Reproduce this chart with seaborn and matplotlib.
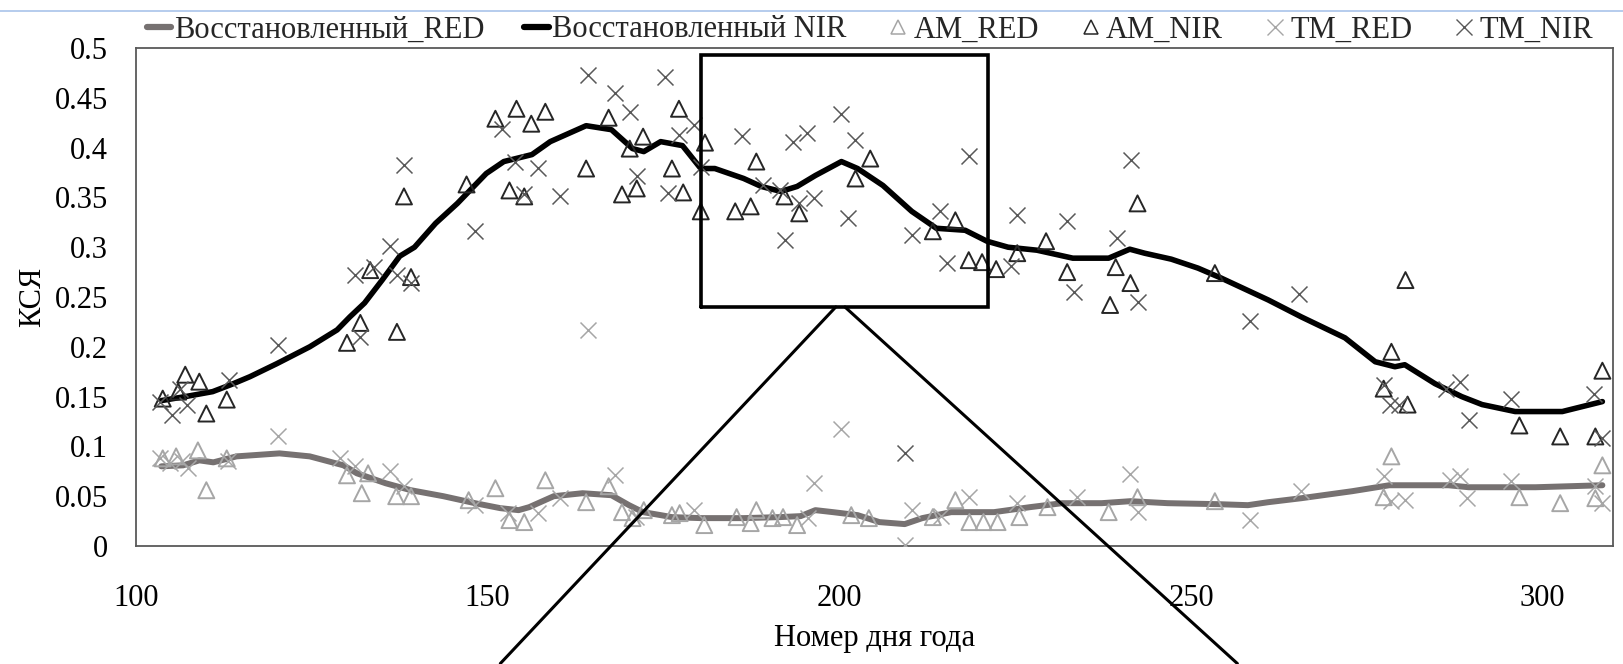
import matplotlib
matplotlib.use("Agg")
import matplotlib.pyplot as plt
from matplotlib.lines import Line2D
import seaborn as sns

# ---------------- data ----------------
nir_day = [103.6, 107, 110.9, 113.5, 116.2, 120, 124.7, 128.6, 130.4, 132.5, 135, 137.5, 139.6, 142.6,
           145.7, 149.8, 152.3, 156.3, 158.9, 164, 167.6, 170.6, 172.2, 174.6, 177.7, 180.3, 182.3, 186.4,
           188.9, 191.7, 194, 196.6, 200.3, 202.6, 206.2, 210.3, 213.8, 217.9, 221, 224, 228.1, 233.2,
           238.3, 241.3, 243.4, 247.2, 251, 254.3, 261, 265.7, 271.9, 276.2, 279, 280.4, 284.7, 288.5,
           291.4, 296.1, 302.8, 308.5]
nir_val = [0.146, 0.150, 0.155, 0.162, 0.170, 0.183, 0.200, 0.217, 0.230, 0.244, 0.267, 0.291, 0.300, 0.324,
           0.344, 0.374, 0.386, 0.393, 0.406, 0.422, 0.418, 0.399, 0.396, 0.406, 0.402, 0.379, 0.379, 0.369,
           0.361, 0.356, 0.361, 0.372, 0.386, 0.379, 0.362, 0.336, 0.319, 0.317, 0.306, 0.300, 0.297, 0.289,
           0.289, 0.298, 0.294, 0.288, 0.279, 0.269, 0.247, 0.230, 0.209, 0.185, 0.180, 0.182, 0.163, 0.150,
           0.142, 0.135, 0.135, 0.145]

red_day = [103.6, 106.7, 109, 111, 114.3, 120.4, 124.7, 129.5, 131.4, 135.5, 139.1, 143.7, 148.2, 151.8,
           154.4, 155.9, 159.4, 163.5, 167.6, 170.1, 172.1, 174.6, 176.2, 180.3, 186.4, 191.5, 194.5, 196.6,
           199.1, 202.6, 205.7, 209.3, 211.8, 215.9, 222, 227.1, 231.7, 237.3, 241.4, 246.7, 253.9, 258.1,
           261, 265.7, 272.9, 278.2, 286.6, 289.5, 299, 308.5]
red_val = [0.080, 0.081, 0.086, 0.084, 0.090, 0.093, 0.090, 0.081, 0.073, 0.063, 0.056, 0.050, 0.043, 0.038,
           0.036, 0.039, 0.050, 0.053, 0.051, 0.041, 0.034, 0.031, 0.029, 0.028, 0.028, 0.029, 0.030, 0.036,
           0.034, 0.031, 0.024, 0.022, 0.028, 0.034, 0.034, 0.039, 0.043, 0.043, 0.045, 0.043, 0.042, 0.041,
           0.044, 0.048, 0.055, 0.061, 0.061, 0.059, 0.059, 0.061]

am_nir_day = [103.8, 106, 107, 109, 110, 112.9, 130, 131.9, 133.3, 137.1, 138.1, 139.1, 147, 151.1, 153.1,
              154.1, 155.2, 156.2, 158.2, 164, 167.2, 169.1, 170.2, 171.2, 172.1, 176.2, 177.2, 177.8, 180.3,
              180.9, 185.2, 187.4, 188.2, 192.2, 194.3, 202.3, 204.4, 213.3, 216.5, 218.4, 220.3, 222.3,
              225.3, 229.4, 232.4, 238.5, 239.3, 241.4, 242.4, 253.4, 277.4, 278.5, 280.5, 280.8, 296.7,
              302.5, 307.5, 308.5]
am_nir_val = [0.148, 0.155, 0.172, 0.165, 0.133, 0.147, 0.204, 0.224, 0.277, 0.215, 0.351, 0.270, 0.363,
              0.429, 0.357, 0.439, 0.351, 0.424, 0.436, 0.379, 0.430, 0.353, 0.399, 0.359, 0.411, 0.379,
              0.439, 0.355, 0.336, 0.405, 0.336, 0.341, 0.386, 0.351, 0.334, 0.369, 0.389, 0.316, 0.327,
              0.287, 0.285, 0.278, 0.294, 0.306, 0.275, 0.242, 0.280, 0.264, 0.344, 0.274, 0.158, 0.195,
              0.267, 0.142, 0.121, 0.110, 0.110, 0.176]

tm_nir_day = [103.4, 105.1, 106.3, 107.2, 113.2, 120.2, 131.2, 131.8, 133.8, 136.1, 137.1, 138.1, 139.1,
              148.2, 152.1, 153.9, 155.2, 157.2, 160.3, 164.2, 168.1, 170.2, 171.2, 175.2, 175.6, 177.2,
              179.3, 180.3, 186.2, 189.2, 191.5, 192.3, 193.4, 194.3, 195.4, 196.4, 200.3, 201.2, 202.3,
              209.3, 210.4, 214.3, 215.3, 218.4, 224.4, 225.3, 232.4, 233.4, 239.5, 241.5, 242.4, 258.4,
              265.4, 277.4, 278.3, 279.6, 286.2, 288.3, 289.5, 295.5, 307.3, 308.5]
tm_nir_val = [0.145, 0.132, 0.158, 0.142, 0.167, 0.202, 0.272, 0.210, 0.280, 0.301, 0.272, 0.383, 0.264,
              0.316, 0.419, 0.386, 0.353, 0.380, 0.351, 0.473, 0.455, 0.436, 0.371, 0.471, 0.354, 0.413,
              0.423, 0.381, 0.412, 0.362, 0.357, 0.307, 0.406, 0.344, 0.415, 0.349, 0.434, 0.329, 0.408,
              0.093, 0.312, 0.336, 0.284, 0.392, 0.281, 0.332, 0.326, 0.255, 0.309, 0.388, 0.245, 0.226,
              0.253, 0.162, 0.142, 0.142, 0.158, 0.165, 0.127, 0.148, 0.153, 0.108]

am_red_day = [103.8, 105.7, 108.8, 110, 112.9, 130, 132.1, 133, 137, 139.1, 147.3, 151.1, 153.1, 155.2,
              158.2, 164, 167.2, 169.1, 170.6, 172.2, 176.2, 177.3, 180.8, 185.4, 187.4, 188.2, 190.5, 192,
              194, 201.7, 204.2, 213.3, 216.5, 218.5, 220.5, 222.5, 225.6, 229.6, 238.3, 242.4, 253.4, 277.4,
              278.5, 296.7, 302.5, 307.5, 308.5]
am_red_val = [0.088, 0.090, 0.096, 0.056, 0.088, 0.071, 0.053, 0.073, 0.050, 0.050, 0.046, 0.058, 0.026,
              0.024, 0.066, 0.044, 0.060, 0.034, 0.028, 0.036, 0.031, 0.033, 0.021, 0.029, 0.023, 0.036,
              0.028, 0.029, 0.021, 0.031, 0.028, 0.029, 0.046, 0.024, 0.024, 0.024, 0.029, 0.039, 0.034,
              0.049, 0.045, 0.049, 0.090, 0.049, 0.043, 0.048, 0.081]

tm_red_day = [103.4, 104.8, 106.5, 107.4, 113.1, 120.2, 129, 131.1, 136.1, 138.1, 148.2, 152.9, 157.2,
              160.3, 164.2, 168.1, 171.1, 179.3, 195.6, 196.4, 200.3, 209.3, 210.3, 214.5, 218.5, 225.3,
              233.8, 241.4, 242.4, 258.4, 265.6, 277.4, 278.5, 280.5, 286.9, 288.3, 289.3, 295.5, 307.5,
              308.5]
tm_red_val = [0.088, 0.083, 0.085, 0.078, 0.085, 0.110, 0.088, 0.080, 0.075, 0.060, 0.041, 0.033, 0.033,
              0.048, 0.217, 0.071, 0.029, 0.036, 0.028, 0.063, 0.117, 0.001, 0.036, 0.030, 0.049, 0.043,
              0.049, 0.072, 0.034, 0.026, 0.055, 0.070, 0.045, 0.046, 0.066, 0.070, 0.048, 0.065, 0.060,
              0.043]

x_ticks = [100, 150, 200, 250, 300]
y_ticks = [0, 0.05, 0.1, 0.15, 0.2, 0.25, 0.3, 0.35, 0.4, 0.45, 0.5]
y_tick_labels = ["0", "0.05", "0.1", "0.15", "0.2", "0.25", "0.3", "0.35", "0.4", "0.45", "0.5"]
series_names = ["Восстановленный_RED", "Восстановленный NIR", "AM_RED", "AM_NIR", "TM_RED", "TM_NIR"]
x_label = "Номер дня года"
y_label = "КСЯ"

# zoom call-out (annotation geometry, data units)
zoom_box = (180.3, 0.240, 221.1, 0.493)   # x0, y0, x1, y1
callout_left = ([199.5, 151.8], [0.240, -0.118])
callout_right = ([200.8, 256.6], [0.240, -0.118])

# ---------------- style ----------------
sns.set_theme(style="white")
plt.rcParams["font.family"] = ["Liberation Serif", "DejaVu Serif"]
FS = 22

C_RED_LINE = "#767171"
C_NIR_LINE = "#000000"
C_LIGHT = "#a6a6a6"
C_DARK_TRI = "#262626"
C_DARK_X = "#595959"

fig = plt.figure(figsize=(16.23, 6.64), dpi=100)
ax = fig.add_axes([0.0838, 0.1777, 0.9938 - 0.0838, 0.9277 - 0.1777])

ms = 11.5

sns.lineplot(x=red_day, y=red_val, ax=ax, color=C_RED_LINE, linewidth=4.3, zorder=2, sort=False)
sns.lineplot(x=nir_day, y=nir_val, ax=ax, color=C_NIR_LINE, linewidth=4.0, zorder=2, sort=False)
sns.scatterplot(x=am_red_day, y=am_red_val, ax=ax, marker="^", s=ms**2, facecolor="none",
                edgecolor=C_LIGHT, linewidth=1.4, zorder=3)
sns.scatterplot(x=am_nir_day, y=am_nir_val, ax=ax, marker="^", s=ms**2, facecolor="none",
                edgecolor=C_DARK_TRI, linewidth=1.4, zorder=3)
sns.scatterplot(x=tm_red_day, y=tm_red_val, ax=ax, marker="x", s=ms**2, color=C_LIGHT,
                linewidth=1.1, zorder=3)
sns.scatterplot(x=tm_nir_day, y=tm_nir_val, ax=ax, marker="x", s=ms**2, color=C_DARK_X,
                linewidth=1.1, zorder=3)

# zoom box and call-out lines
x0, y0, x1, y1 = zoom_box
ax.plot([x0, x1, x1, x0, x0], [y0, y0, y1, y1, y0], color="black", linewidth=2.6, zorder=4,
        solid_joinstyle="miter")
ax.plot(callout_left[0], callout_left[1], color="black", linewidth=2.2, clip_on=False, zorder=4)
ax.plot(callout_right[0], callout_right[1], color="black", linewidth=2.2, clip_on=False, zorder=4)

ax.set_xlim(100, 310)
ax.set_ylim(0, 0.5)
ax.set_xticks(x_ticks)
ax.set_xticklabels([str(t) for t in x_ticks])
ax.set_yticks(y_ticks)
ax.set_yticklabels(y_tick_labels)
ax.tick_params(axis="both", length=0, labelsize=FS, colors="black")
ax.tick_params(axis="y", pad=20)
ax.tick_params(axis="x", pad=27)
ax.set_xlabel(x_label, fontsize=FS, labelpad=8, color="black")
ax.set_ylabel(y_label, fontsize=FS, labelpad=6, color="black")
for sp in ax.spines.values():
    sp.set_visible(True)
    sp.set_color("#595959")
    sp.set_linewidth(1.3)

handles = [
    Line2D([], [], color=C_RED_LINE, linewidth=4.5),
    Line2D([], [], color=C_NIR_LINE, linewidth=4.5),
    Line2D([], [], linestyle="none", marker="^", markersize=10, markerfacecolor="none",
           markeredgecolor=C_LIGHT, markeredgewidth=1.1),
    Line2D([], [], linestyle="none", marker="^", markersize=10, markerfacecolor="none",
           markeredgecolor=C_DARK_TRI, markeredgewidth=1.1),
    Line2D([], [], linestyle="none", marker="x", markersize=11, color=C_LIGHT, markeredgewidth=1),
    Line2D([], [], linestyle="none", marker="x", markersize=11, color=C_DARK_X, markeredgewidth=1),
]
fig.legend(handles, series_names, loc="center", bbox_to_anchor=(0.536, 0.955), ncol=6,
           frameon=False, fontsize=FS, handlelength=0.8, handletextpad=0.1, columnspacing=1.3,
           borderaxespad=0)

fig.add_artist(Line2D([0, 1], [1 - 11 / 664, 1 - 11 / 664], color="#a9c4ea", linewidth=1.2,
                      transform=fig.transFigure))

fig.savefig("out.png", dpi=100)
